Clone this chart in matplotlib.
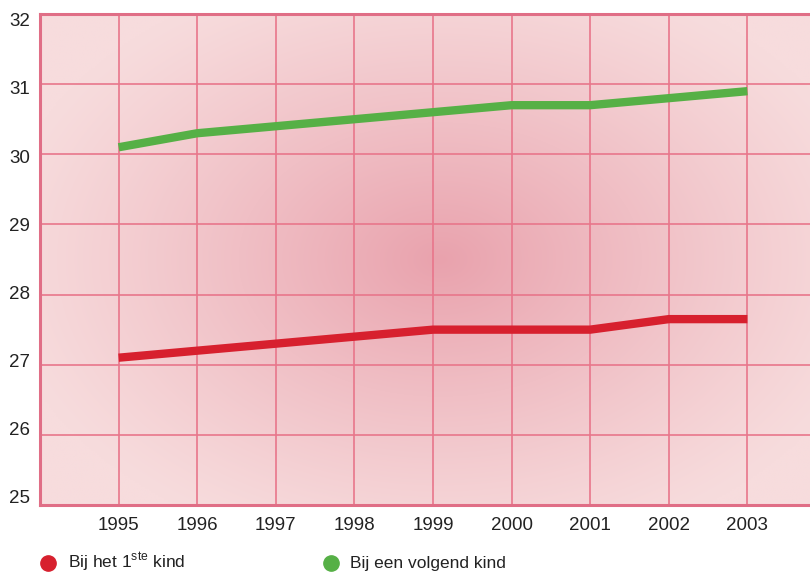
import numpy as np
import matplotlib
matplotlib.use("Agg")
import matplotlib.pyplot as plt
import matplotlib.transforms as mtrans
from matplotlib.colors import to_rgb
from matplotlib.lines import Line2D

years = [1995, 1996, 1997, 1998, 1999, 2000, 2001, 2002, 2003]
first_child = [27.1, 27.2, 27.3, 27.4, 27.5, 27.5, 27.5, 27.65, 27.65]
next_child = [30.1, 30.3, 30.4, 30.5, 30.6, 30.7, 30.7, 30.8, 30.9]
y_ticks = [25, 26, 27, 28, 29, 30, 31, 32]
label_first = "Bij het 1$^{\\mathregular{ste}}$ kind"
label_next = "Bij een volgend kind"

RED = "#d7202e"
GREEN = "#56b046"
GRID = "#e8768b"
SPINE = "#e06e86"
TXT = "#222222"

plt.rcParams['font.family'] = ['Liberation Sans', 'DejaVu Sans']

fig = plt.figure(figsize=(8.10, 5.73), dpi=100)
ax = fig.add_axes([40/810, 68/573, 770/810, 491/573])
ax.set_xlim(1994, 1994 + 770/78.6)
ax.set_ylim(25, 32)

# radial gradient background
nx, ny = 400, 260
xs = np.linspace(0, 1, nx)
ys = np.linspace(0, 1, ny)
X, Y = np.meshgrid(xs, ys)
cx, cy = 0.52, 0.50
r = np.sqrt(((X - cx) / 0.58) ** 2 + ((Y - cy) / 0.62) ** 2)
t = np.clip(1 - r, 0, 1) ** 1.15
edge = np.array(to_rgb("#f7dcdd"))
center = np.array(to_rgb("#e9a2ad"))
img = edge[None, None, :] * (1 - t[..., None]) + center[None, None, :] * t[..., None]
ax.imshow(img, extent=[0, 1, 0, 1], transform=ax.transAxes, origin="lower",
          aspect="auto", zorder=0, interpolation="bilinear")

for yv in y_ticks[1:-1]:
    ax.axhline(yv, color=GRID, lw=1.2, zorder=1)
for xv in years:
    ax.axvline(xv, color=GRID, lw=1.2, zorder=1)

ax.plot(years, first_child, color=RED, lw=6, solid_capstyle="butt", zorder=3)
ax.plot(years, next_child, color=GREEN, lw=6, solid_capstyle="butt", zorder=3)

ax.set_xticks(years)
ax.set_xticklabels([str(y) for y in years], fontsize=13.5, color=TXT)
ax.set_yticks(y_ticks)
ax.set_yticklabels([str(y) for y in y_ticks], fontsize=13.5, color=TXT, va="center")
ax.tick_params(length=0, pad=9, axis="x")
ax.tick_params(length=0, pad=7, axis="y")
# labels in the original sit on a slightly compressed scale relative to the gridlines
for lab, v in zip(ax.get_yticklabels(), y_ticks):
    off_px = 7.8 - (32 - v) * 2.0
    lab.set_transform(lab.get_transform() +
                      mtrans.ScaledTranslation(0, -off_px / 100, fig.dpi_scale_trans))

for s in ["left", "top", "bottom"]:
    ax.spines[s].set_color(SPINE)
    ax.spines[s].set_linewidth(2.2)
    ax.spines[s].set_zorder(4)
ax.spines["right"].set_visible(False)

# legend
fig.add_artist(Line2D([48/810], [1 - 563/573], marker="o", markersize=11, color=RED,
                      linestyle="none", transform=fig.transFigure))
fig.add_artist(Line2D([331/810], [1 - 563/573], marker="o", markersize=11, color=GREEN,
                      linestyle="none", transform=fig.transFigure))
fig.text(68/810, 1 - 568/573, label_first, color=TXT, fontsize=12.5, ha="left", va="baseline")
fig.text(350/810, 1 - 568/573, label_next, color=TXT, fontsize=12.5, ha="left", va="baseline")

fig.savefig("out.png", dpi=100)
